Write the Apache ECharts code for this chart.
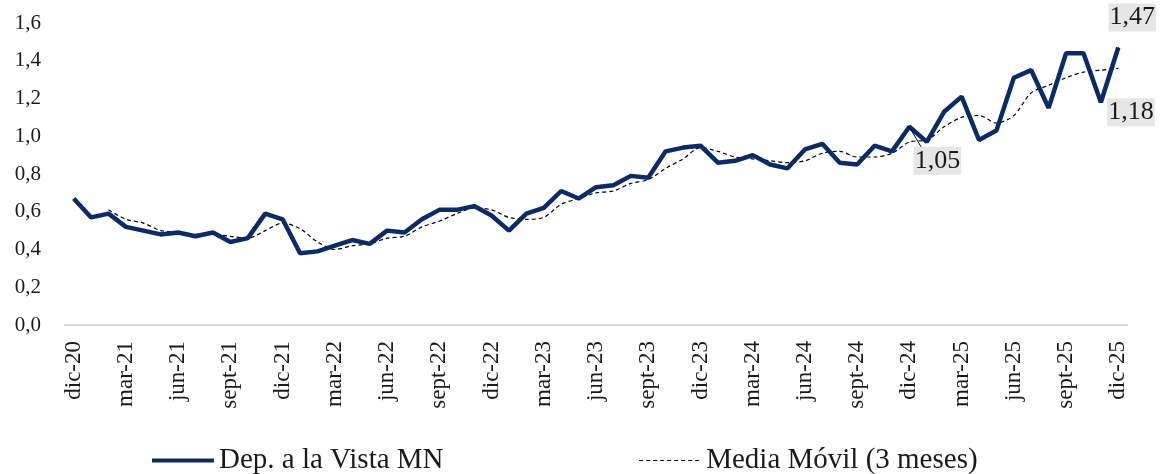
<!DOCTYPE html>
<html>
<head>
<meta charset="utf-8">
<script src="https://cdn.jsdelivr.net/npm/echarts@6/dist/echarts.min.js"></script>
<style>
  html, body { margin: 0; padding: 0; background: #fff; }
  #chart { width: 1161px; height: 474px; }
</style>
</head>
<body>
<div id="chart"></div>
<script>
// meses dic-20 .. dic-25
const categories = [
  'dic-20',
  'ene-21', 'feb-21', 'mar-21', 'abr-21', 'may-21', 'jun-21', 'jul-21', 'ago-21', 'sept-21', 'oct-21', 'nov-21', 'dic-21',
  'ene-22', 'feb-22', 'mar-22', 'abr-22', 'may-22', 'jun-22', 'jul-22', 'ago-22', 'sept-22', 'oct-22', 'nov-22', 'dic-22',
  'ene-23', 'feb-23', 'mar-23', 'abr-23', 'may-23', 'jun-23', 'jul-23', 'ago-23', 'sept-23', 'oct-23', 'nov-23', 'dic-23',
  'ene-24', 'feb-24', 'mar-24', 'abr-24', 'may-24', 'jun-24', 'jul-24', 'ago-24', 'sept-24', 'oct-24', 'nov-24', 'dic-24',
  'ene-25', 'feb-25', 'mar-25', 'abr-25', 'may-25', 'jun-25', 'jul-25', 'ago-25', 'sept-25', 'oct-25', 'nov-25', 'dic-25'
]

const depVista = [
  0.67,
  0.57, 0.59, 0.52, 0.50, 0.48, 0.49, 0.47, 0.49, 0.44, 0.46, 0.59, 0.56,
  0.38, 0.39, 0.42, 0.45, 0.43, 0.50, 0.49, 0.56, 0.61, 0.61, 0.63, 0.58,
  0.50, 0.59, 0.62, 0.71, 0.67, 0.73, 0.74, 0.79, 0.78, 0.92, 0.94, 0.95,
  0.86, 0.87, 0.90, 0.85, 0.83, 0.93, 0.96, 0.86, 0.85, 0.95, 0.92, 1.05,
  0.97, 1.13, 1.21, 0.98, 1.03, 1.31, 1.35, 1.15, 1.44, 1.44, 1.18, 1.47
]

const mediaMovil = [
  null,
  null, 0.61, 0.56, 0.54, 0.50, 0.49, 0.48, 0.48, 0.47, 0.46, 0.50, 0.54,
  0.51, 0.44, 0.40, 0.42, 0.43, 0.46, 0.47, 0.52, 0.55, 0.59, 0.62, 0.61,
  0.57, 0.56, 0.57, 0.64, 0.67, 0.70, 0.71, 0.75, 0.77, 0.83, 0.88, 0.94,
  0.92, 0.89, 0.88, 0.87, 0.86, 0.87, 0.91, 0.92, 0.89, 0.89, 0.91, 0.97,
  0.98, 1.05, 1.10, 1.11, 1.07, 1.11, 1.23, 1.27, 1.31, 1.34, 1.35, 1.36
]

// etiquetas resaltadas: indice -> desplazamiento
const highlights = [
  { idx: 48, offset: [28, 34], guide: true },
  { idx: 59, offset: [30, 10], guide: false },
  { idx: 60, offset: [14, -30], guide: false }
]

const fmt = (v) => v.toFixed(2).replace('.', ',')
const FONT = '"Liberation Serif", "DejaVu Serif", serif'
const NAVY = '#0b2a66'

const depData = depVista.map((v, i) => {
  const h = highlights.find((x) => x.idx === i)
  if (!h) return v
  return {
    value: v,
    symbol: 'circle',
    symbolSize: 1,
    label: {
      show: true,
      position: 'inside',
      offset: h.offset,
      formatter: (p) => fmt(p.value),
      fontFamily: FONT,
      fontSize: 26,
      color: '#1a1a1a',
      backgroundColor: '#e6e6e6',
      padding: [2, 1, 0, 1],
    },
    labelLine: h.guide ? { show: true, lineStyle: { color: '#000', width: 1 } } : { show: false },
  }
})

const myChart = echarts.init(document.getElementById('chart'))
const option = {
  backgroundColor: '#fff',
  animation: false,
  textStyle: { fontFamily: FONT },
  grid: { left: 65, right: 34, top: 23, bottom: 149 },
  legend: {
    top: 441,
    left: 145,
    itemGap: 195,
    itemWidth: 62,
    itemHeight: 14,
    itemStyle: { opacity: 0 },
    textStyle: { fontFamily: FONT, fontSize: 29, color: '#1a1a1a' },
    data: [
      { name: 'Dep. a la Vista MN', lineStyle: { width: 4 } },
      { name: 'Media Móvil (3 meses)', lineStyle: { width: 1.2 } },
    ],
  },
  xAxis: {
    type: 'category',
    data: categories,
    boundaryGap: true,
    axisLine: { lineStyle: { color: '#d9d9d9', width: 2 } },
    axisTick: { show: false },
    axisLabel: {
      interval: 2,
      rotate: 90,
      margin: 16,
      fontFamily: FONT,
      fontSize: 23,
      color: '#1a1a1a',
    },
  },
  yAxis: {
    type: 'value',
    min: 0,
    max: 1.6,
    interval: 0.2,
    splitLine: { show: false },
    axisLine: { show: false },
    axisTick: { show: false },
    axisLabel: {
      margin: 24,
      fontFamily: FONT,
      fontSize: 21,
      color: '#1a1a1a',
      formatter: (v) => v.toFixed(1).replace('.', ','),
    },
  },
  series: [
    {
      name: 'Media Móvil (3 meses)',
      type: 'line',
      data: mediaMovil,
      smooth: 0.3,
      symbol: 'none',
      z: 3,
      lineStyle: { color: '#000', width: 1.2, type: [4, 3] },
      itemStyle: { color: '#000' },
    },
    {
      name: 'Dep. a la Vista MN',
      type: 'line',
      data: depData,
      symbol: 'none',
      z: 4,
      lineStyle: { color: NAVY, width: 4.5 },
      itemStyle: { color: NAVY },
    },
  ],
}

option && myChart.setOption(option)
</script>
</body>
</html>
